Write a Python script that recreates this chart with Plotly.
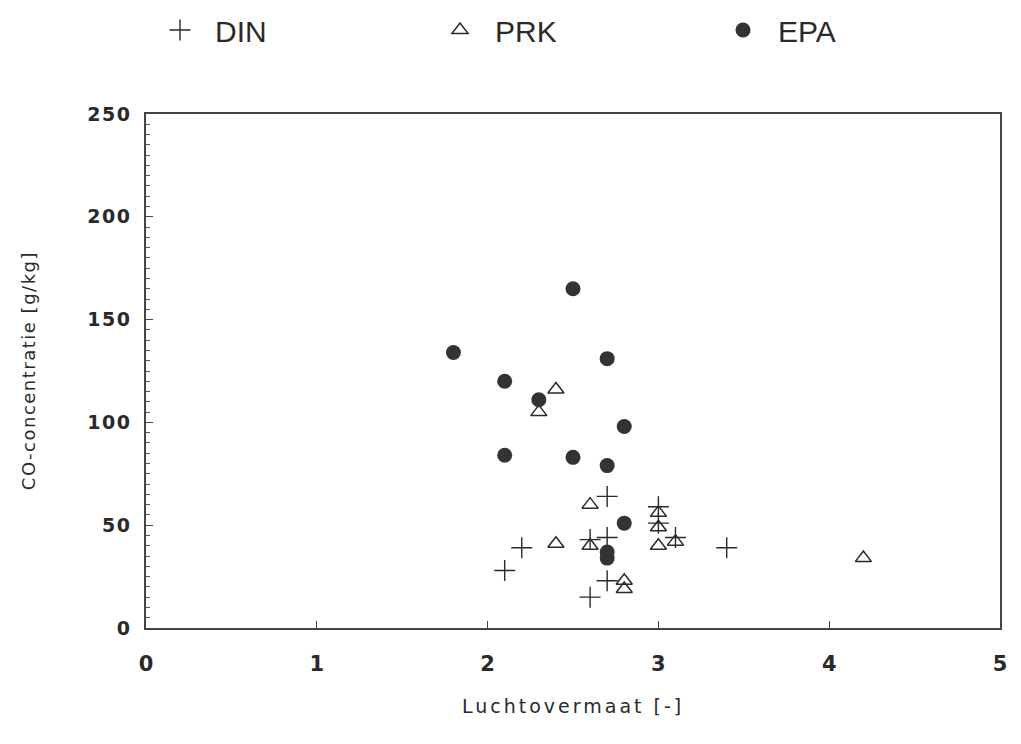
import plotly.graph_objects as go

# Luchtovermaat (x) and CO-concentratie in g/kg (y) per measurement method
din_x = [2.1, 2.2, 2.6, 2.6, 2.7, 2.7, 2.7, 3.0, 3.0, 3.1, 3.4]
din_y = [28, 39, 15, 43, 64, 44, 23, 59, 51, 44, 39]

prk_x = [2.4, 2.3, 2.6, 2.4, 2.6, 2.8, 2.8, 3.0, 3.0, 3.0, 3.1, 4.2]
prk_y = [116, 105, 60, 41, 40, 23, 19, 56, 49, 40, 42, 34]

epa_x = [1.8, 2.5, 2.1, 2.3, 2.7, 2.8, 2.1, 2.5, 2.7, 2.8, 2.7, 2.7]
epa_y = [134, 165, 120, 111, 131, 98, 84, 83, 79, 51, 37, 34]

x_ticks = [0, 1, 2, 3, 4, 5]
y_ticks = [0, 50, 100, 150, 200, 250]

ink = "#2a2a2a"
sans = "Liberation Sans, Arial, sans-serif"
wide = "DejaVu Sans, Verdana, sans-serif"


def spaced(text, px):
    return f'<span style="letter-spacing:{px}px">{text}</span>'


fig = go.Figure()
fig.add_trace(go.Scatter(
    x=din_x, y=din_y, mode="markers", name="DIN", legend="legend",
    marker=dict(symbol="cross-thin-open", size=15, color=ink,
                line=dict(color=ink, width=1.4)),
))
fig.add_trace(go.Scatter(
    x=prk_x, y=prk_y, mode="markers", name="PRK", legend="legend2",
    marker=dict(symbol="triangle-up-open", size=14, color=ink,
                line=dict(color=ink, width=1.5)),
))
fig.add_trace(go.Scatter(
    x=epa_x, y=epa_y, mode="markers", name="EPA", legend="legend3",
    marker=dict(symbol="circle", size=15, color="#333333", line=dict(width=0)),
))

axis_common = dict(
    showgrid=False, zeroline=False, showline=True, mirror=True,
    linecolor="#444444", linewidth=1.5, ticks="inside", ticklen=7,
    tickcolor="#444444", tickwidth=1.3,
)

fig.update_xaxes(range=[0, 5], tickvals=x_ticks,
                 ticktext=[str(v) for v in x_ticks],
                 ticklabelstandoff=16, tickangle=0, automargin=False,
                 tickfont=dict(family=wide, size=21, color=ink, weight=600),
                 **axis_common)
fig.update_yaxes(
    range=[0, 250], tickvals=y_ticks,
    ticktext=[spaced(v, 1.5) for v in y_ticks],
    ticklabelstandoff=9, automargin=False,
    tickfont=dict(family=wide, size=19, color=ink, weight="bold"),
    minor=dict(dtick=5, ticks="inside", ticklen=4, tickcolor="#555555", tickwidth=1),
    **axis_common,
)


def legend_box(x_px):
    # one single-entry legend per series, laid out along the top edge
    return dict(
        xref="container", yref="container",
        x=x_px / 1021, y=1 - 30 / 744, xanchor="left", yanchor="middle",
        itemwidth=60, bgcolor="rgba(0,0,0,0)",
        font=dict(family=sans, size=30, color=ink),
    )


fig.update_layout(
    width=1021, height=744,
    margin=dict(l=146, r=21, t=114, b=116, autoexpand=False),
    paper_bgcolor="white", plot_bgcolor="white",
    font=dict(family=sans, color=ink),
    showlegend=True,
    legend=legend_box(145),
    legend2=legend_box(425),
    legend3=legend_box(708),
    annotations=[
        dict(text=spaced("CO-concentratie [g/kg]", 1.5), xref="paper", yref="paper",
             x=-0.138, y=0.5, textangle=-90, showarrow=False,
             xanchor="center", yanchor="middle",
             font=dict(family=wide, size=18, color=ink)),
        dict(text=spaced("Luchtovermaat [-]", 3), xref="paper", yref="paper",
             x=0.5, y=-0.152, showarrow=False,
             xanchor="center", yanchor="middle",
             font=dict(family=wide, size=19, color=ink)),
    ],
)

fig.write_html("out.html")
